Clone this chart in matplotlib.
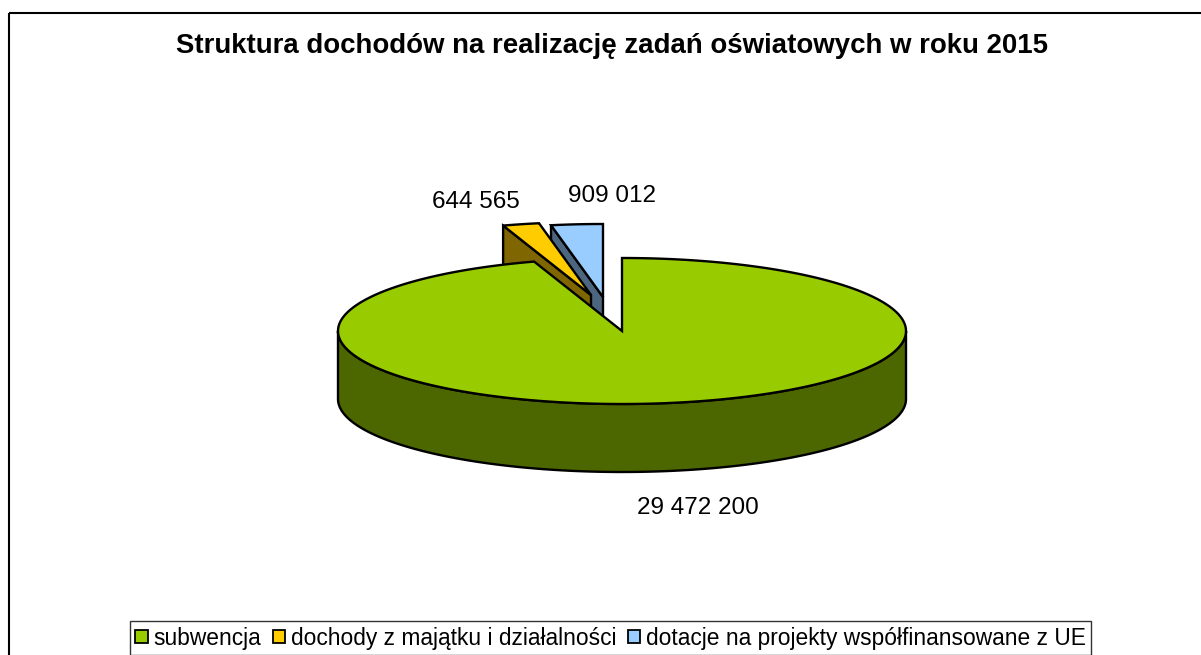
import numpy as np
import matplotlib
matplotlib.use("Agg")
import matplotlib.pyplot as plt
from matplotlib.patches import Polygon, Rectangle

# ---- data ----
title = "Struktura dochodów na realizację zadań oświatowych w roku 2015"
categories = ["subwencja", "dochody z majątku i działalności",
              "dotacje na projekty współfinansowane z UE"]
values = [29472200, 644565, 909012]
value_labels = ["29 472 200", "644 565", "909 012"]

# ---- style / layout ----
top_colors = ["#99CC00", "#FFCC00", "#99CCFF"]
side_colors = ["#4C6600", "#806600", "#4C6680"]
W, H = 1201, 655
cx, cy = 622, 331          # centre of top ellipse (pixels)
ra, rb = 284, 73           # ellipse semi axes
depth = 68                 # cylinder height
offsets = [(0, 0), (-31, -36), (-19, -34)]   # explosion shifts
label_pos = [(698, 508), (476, 202), (612, 196)]
lw = 1.7

plt.rcParams["font.family"] = ["Liberation Sans", "DejaVu Sans"]

fig = plt.figure(figsize=(W / 100, H / 100), dpi=100)
ax = fig.add_axes([0, 0, 1, 1])
ax.set_xlim(0, W)
ax.set_ylim(H, 0)
ax.axis("off")


def pt(theta_deg, ox, oy, dz=0.0):
    t = np.radians(theta_deg)
    return np.column_stack([cx + ox + ra * np.cos(t), cy + oy - rb * np.sin(t) + dz])


# angles: start at 12 o'clock, clockwise
fr = np.array(values, dtype=float) / sum(values)
starts, ends = [], []
cur = 90.0
for f in fr:
    nxt = cur - 360.0 * f
    starts.append(nxt)   # CCW start
    ends.append(cur)     # CCW end
    cur = nxt

draw_order = [2, 1, 0]   # back slices first
for i in draw_order:
    a0, a1 = starts[i], ends[i]
    ox, oy = offsets[i]
    apex = np.array([[cx + ox, cy + oy]])
    apex_b = apex + [0, depth]
    z = 10 + (2 - i) * 5
    # radial cut faces that face the viewer
    for ang, nrm in ((a1, a1 + 90), (a0, a0 - 90)):
        if np.sin(np.radians(nrm)) < -1e-6 and i != 0:
            o = pt(ang, ox, oy)
            ob = pt(ang, ox, oy, depth)
            poly = np.vstack([apex, o, ob, apex_b])
            ax.add_patch(Polygon(poly, closed=True, fc=side_colors[i],
                                 ec="black", lw=lw, zorder=z, joinstyle="miter"))
    # front curved side
    if i == 0:
        th = np.linspace(180, 360, 300)
        topc = pt(th, ox, oy)
        botc = pt(th[::-1], ox, oy, depth)
        ax.add_patch(Polygon(np.vstack([topc, botc]), closed=True,
                             fc=side_colors[i], ec="black", lw=lw, zorder=z))
    # top face
    if a1 < a0:
        th = np.linspace(a0, a1 + 360, 500)
    else:
        th = np.linspace(a0, a1, 500)
    arc = pt(th, ox, oy)
    ax.add_patch(Polygon(np.vstack([apex, arc]), closed=True,
                         fc=top_colors[i], ec="black", lw=lw, zorder=z + 1,
                         joinstyle="miter"))

for (x, y), s in zip(label_pos, value_labels):
    ax.text(x, y, s, ha="center", va="center", fontsize=17.5, color="black",
            zorder=40)

ax.text(612, 53, title, ha="center", va="baseline", fontsize=19.9,
        fontweight="bold", color="black", zorder=40)

# outer chart border
ax.add_patch(Rectangle((9, 13), W + 20, H + 20, fill=False, ec="black",
                       lw=1.5, zorder=50))

handles = [Rectangle((0, 0), 1, 1, fc=c, ec="black", lw=1.3) for c in top_colors]
leg = ax.legend(handles, categories, loc="upper center",
                bbox_to_anchor=(610.5 / W, 1 - 621 / H), ncol=3,
                fontsize=16.4, frameon=True, fancybox=False, shadow=False,
                handlelength=0.55, handleheight=0.55, handletextpad=0.25,
                columnspacing=0.5, borderpad=0.25, borderaxespad=0)
leg.get_frame().set_edgecolor("black")
leg.get_frame().set_linewidth(1.0)
leg.set_zorder(60)

fig.savefig("out.png", dpi=100)
